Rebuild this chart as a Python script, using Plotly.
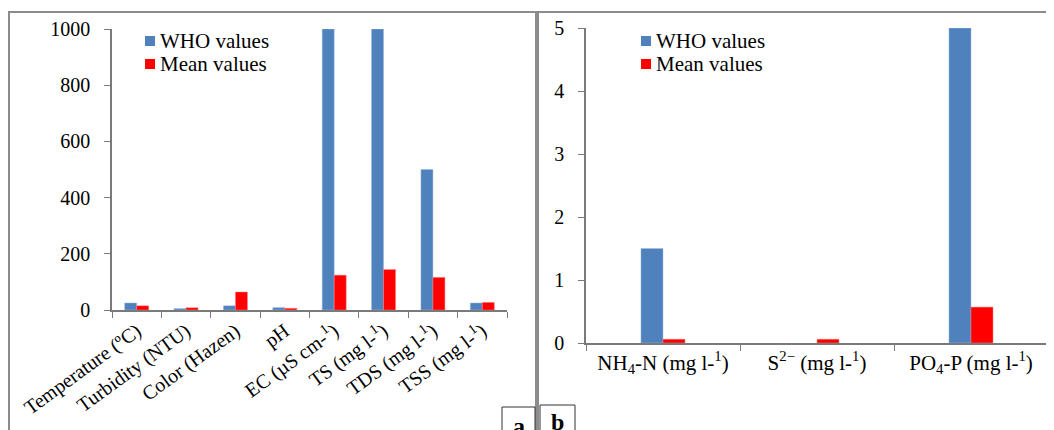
import plotly.graph_objects as go

W, H = 1054, 430
OFF = 8  # page body margin offset

# Panel a data
cats_a = ["Temperature (ºC)", "Turbidity (NTU)", "Color (Hazen)", "pH",
          "EC (µS cm-<sup>1</sup>)", "TS (mg l-<sup>1</sup>)", "TDS (mg l-<sup>1</sup>)", "TSS (mg l-<sup>1</sup>)"]
who_a = [25, 5, 15, 8.5, 1000, 1000, 500, 25]
mean_a = [15, 8, 64, 6, 124, 144, 116, 27]

# Panel b data
cats_b = ["NH<sub>4</sub>-N (mg l-<sup>1</sup>)", "S<sup>2−</sup> (mg l-<sup>1</sup>)", "PO<sub>4</sub>-P (mg l-<sup>1</sup>)"]
who_b = [1.5, None, 5]
mean_b = [0.06, 0.06, 0.57]

series_names = ["WHO values", "Mean values"]

BLUE = "#4F81BD"
RED = "#FF0000"
FONT = "Liberation Serif, 'Times New Roman', serif"

def px_x(p):
    return (p - OFF) / W

def px_y(p):
    return 1 - (p - OFF) / H

wa = 0.243
wb = 0.143

fig = go.Figure()
fig.add_trace(go.Bar(x=cats_a, y=who_a, name=series_names[0], marker=dict(color=BLUE, line=dict(width=0.5, color="#9db9dc")),
                     width=wa, offset=-wa, xaxis="x", yaxis="y", showlegend=False))
fig.add_trace(go.Bar(x=cats_a, y=mean_a, name=series_names[1], marker=dict(color=RED, line=dict(width=0.5, color="#ff8080")),
                     width=wa, offset=0, xaxis="x", yaxis="y", showlegend=False))
fig.add_trace(go.Bar(x=cats_b, y=who_b, name=series_names[0], marker=dict(color=BLUE, line=dict(width=0.5, color="#9db9dc")),
                     width=wb, offset=-wb, xaxis="x2", yaxis="y2", showlegend=False))
fig.add_trace(go.Bar(x=cats_b, y=mean_b, name=series_names[1], marker=dict(color=RED, line=dict(width=0.5, color="#ff8080")),
                     width=wb, offset=0, xaxis="x2", yaxis="y2", showlegend=False))

axcol = "#7a7a7a"
ytickfont = dict(family=FONT, size=20, color="black")

common_x = dict(type="category", showline=True, linecolor=axcol, linewidth=1.5,
                ticks="outside", tickson="boundaries", ticklen=6, tickcolor=axcol,
                showgrid=False, zeroline=False, automargin=False)
common_y = dict(showline=True, linecolor=axcol, linewidth=1.5, ticks="outside", ticklen=6,
                tickcolor=axcol, showgrid=False, zeroline=False, tickfont=ytickfont,
                ticklabelstandoff=10, automargin=False)

fig.update_layout(
    width=W, height=H,
    font=dict(family=FONT, color="black"),
    margin=dict(l=0, r=0, t=0, b=0, autoexpand=False),
    paper_bgcolor="white", plot_bgcolor="white",
    barmode="group",
    showlegend=False,
    xaxis=dict(domain=[px_x(112), px_x(507)], anchor="y", tickangle=-36,
               tickfont=dict(family=FONT, size=20, color="black"), **common_x),
    yaxis=dict(domain=[px_y(310), px_y(29)], anchor="x", range=[0, 1000], dtick=200, **common_y),
    xaxis2=dict(domain=[px_x(586), px_x(1048)], anchor="y2", tickangle=0,
                tickfont=dict(family=FONT, size=21, color="black"), **common_x),
    yaxis2=dict(domain=[px_y(343), px_y(28)], anchor="x2", range=[0, 5], dtick=1, **common_y),
)

shapes = []
gray = "#8c8c8c"
shapes.append(dict(type="line", xref="paper", yref="paper", x0=px_x(8), x1=1, y0=px_y(12), y1=px_y(12),
                   line=dict(color=gray, width=2)))
shapes.append(dict(type="line", xref="paper", yref="paper", x0=px_x(9), x1=px_x(9), y0=px_y(12), y1=px_y(445),
                   line=dict(color=gray, width=2)))
shapes.append(dict(type="line", xref="paper", yref="paper", x0=px_x(537), x1=px_x(537), y0=px_y(12), y1=px_y(445),
                   line=dict(color=gray, width=4)))
shapes.append(dict(type="rect", xref="paper", yref="paper", x0=px_x(502), x1=px_x(535), y0=px_y(407), y1=px_y(450),
                   line=dict(color="#333333", width=1), fillcolor="white"))
shapes.append(dict(type="rect", xref="paper", yref="paper", x0=px_x(540), x1=px_x(575), y0=px_y(405), y1=px_y(450),
                   line=dict(color="#333333", width=1), fillcolor="white"))

# manual legends (squares + labels)
legend_items = [(series_names[0], BLUE, 41), (series_names[1], RED, 64)]
for lx in (145, 641):
    for name, col, cy in legend_items:
        shapes.append(dict(type="rect", xref="paper", yref="paper",
                           x0=px_x(lx), x1=px_x(lx + 10), y0=px_y(cy - 5), y1=px_y(cy + 5),
                           line=dict(width=0), fillcolor=col))
        fig.add_annotation(text=name, xref="paper", yref="paper", x=px_x(lx + 13), y=px_y(cy),
                           xanchor="left", yanchor="middle", showarrow=False,
                           font=dict(family=FONT, size=21, color="black"))
fig.update_layout(shapes=shapes)

fig.add_annotation(text="<b>a</b>", xref="paper", yref="paper", x=px_x(519), y=px_y(411),
                   xanchor="center", yanchor="top", showarrow=False,
                   font=dict(family=FONT, size=24, color="black"))
fig.add_annotation(text="<b>b</b>", xref="paper", yref="paper", x=px_x(557), y=px_y(407),
                   xanchor="center", yanchor="top", showarrow=False,
                   font=dict(family=FONT, size=24, color="black"))

fig.write_html("out.html")
